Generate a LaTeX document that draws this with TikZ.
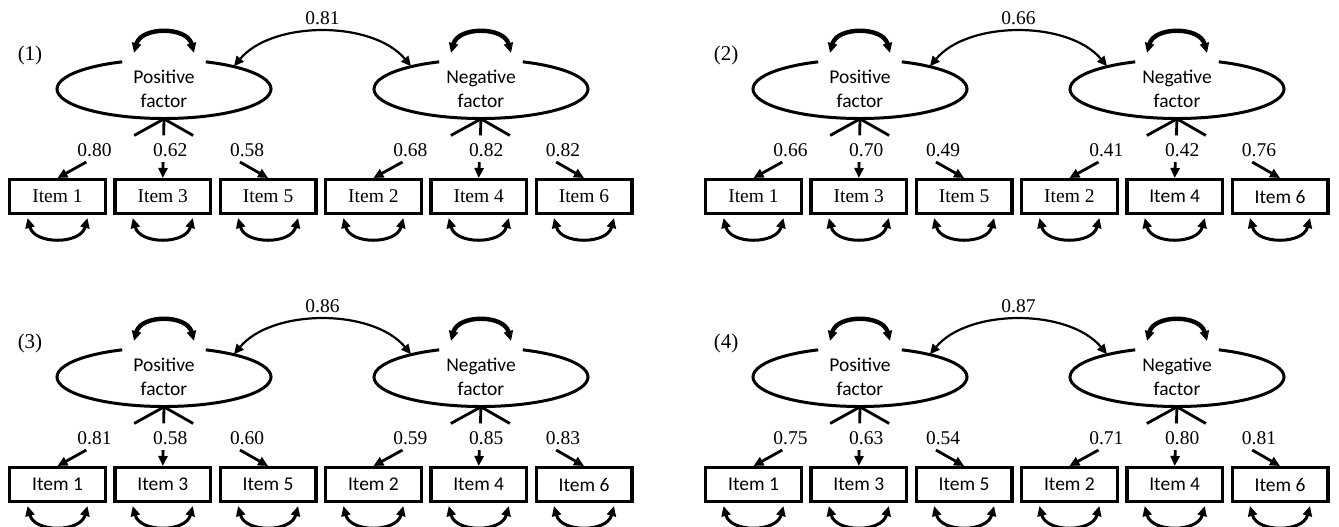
\documentclass[tikz,border=0pt]{standalone}
\usepackage{fontspec}
\setmainfont{Liberation Serif}
\setsansfont{Carlito}
\usetikzlibrary{arrows.meta,calc,shapes.geometric}

\tikzset{
  item/.style={draw, line width=1.7pt, minimum width=47.8pt, minimum height=16.8pt, inner sep=0pt},
  factor/.style={ellipse, minimum width=107pt, minimum height=29.5pt, inner sep=0pt, align=center,
    font=\sffamily\fontsize{9.75}{12}\selectfont},
  num/.style={inner sep=0pt, font=\rmfamily\fontsize{9.75}{12}\selectfont},
  outline/.style={line width=1.5pt},
  load/.style={line width=1.4pt},
  covar/.style={<->, line width=1.1pt},
  varloop/.style={<->, line width=2.2pt},
  errloop/.style={<->, line width=1.5pt}
}

\begin{document}
\begin{tikzpicture}[x=0.5pt, y=-0.5pt, >={Triangle[length=5pt,width=4.5pt]},
  every node/.append style={font=\fontsize{9.75}{12}\selectfont}]
\useasboundingbox (0,0) rectangle (1339,526);
\foreach \p/\dx/\dy/\cv/\va/\vb/\vc/\vd/\ve/\vf/\fa/\fb in {
  1/0/0/0.81/0.80/0.62/0.58/0.68/0.82/0.82/\rmfamily/\rmfamily,
  2/696/0/0.66/0.66/0.70/0.49/0.41/0.42/0.76/\rmfamily/\sffamily,
  3/0/288/0.86/0.81/0.58/0.60/0.59/0.85/0.83/\sffamily/\sffamily,
  4/696/288/0.87/0.75/0.63/0.54/0.71/0.80/0.81/\sffamily/\sffamily}
{
\begin{scope}[shift={(\dx,\dy)}]
  \node[num, font=\rmfamily\fontsize{10.5}{12}\selectfont] (tag\p) at (30,55) {(\p)};
  \node[factor] (pos\p) at (164,89) {Positive\\factor};
  \node[factor] (neg\p) at (481,89) {Negative\\factor};

  % observed items with their error variances
  \foreach \n/\k/\f in {1/0/\fa, 3/1/\fa, 5/2/\fa, 2/3/\fa, 4/4/\fb, 6/5/\fb}
  {
    \node[item] (i\n-\p) at ({57.5+105.3*\k},196.5) {\f Item \n};
    \draw[errloop] ([shift={(-15pt,-10.75pt)}]i\n-\p.center)
      .. controls +(-75:13.8pt) and +(-105:13.8pt) .. ([shift={(15pt,-10.75pt)}]i\n-\p.center);
  }

  % factor outlines and variances
  \foreach \fac in {pos, neg}
  {
    \draw[outline] (\fac\p.center) ++(113:53.5pt and 14.75pt)
      arc[start angle=113, end angle=427, x radius=53.5pt, y radius=14.75pt];
    \draw[varloop] ([shift={(-15pt,18pt)}]\fac\p.center)
      .. controls +(75:13.8pt) and +(105:13.8pt) .. ([shift={(15pt,18pt)}]\fac\p.center);
  }

  % loadings
  \foreach \fac/\n/\v/\s in {pos/1/\va/18.5, pos/3/\vb/3.75, pos/5/\vc/-10.5,
                             neg/2/\vd/18.5, neg/4/\ve/3.75, neg/6/\vf/-10.5}
  {
    \draw[load] (\fac\p.south) -- ($(\fac\p.south)!0.28!(i\n-\p.north)$);
    \draw[load, ->] ($(\fac\p.south)!0.73!(i\n-\p.north)$) -- (i\n-\p.north);
    \node[num] (w\n-\p) at ([shift={(\s pt,14pt)}]i\n-\p.north) {\v};
  }

  % factor covariance
  \draw[covar] (pos\p.18) .. controls +(50:30pt) and +(130:30pt) ..
    node[num, above=3pt] (r\p) {\cv} (neg\p.162);
\end{scope}
}
\end{tikzpicture}
\end{document}
